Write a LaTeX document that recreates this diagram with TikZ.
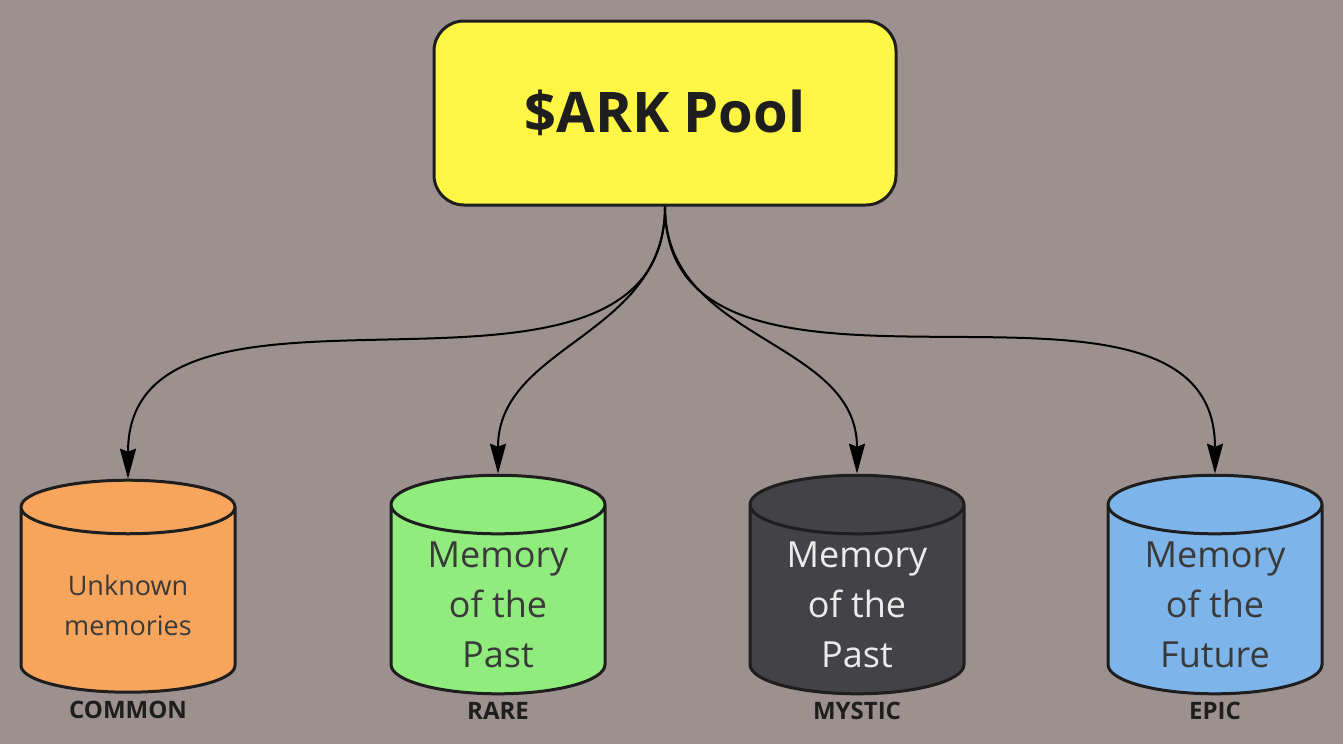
\documentclass[tikz,border=0pt]{standalone}
\usepackage{fontspec}
\setmainfont{Open Sans}
\usetikzlibrary{arrows.meta, positioning, shapes.geometric}
\definecolor{cbg}{HTML}{9D918F}
\definecolor{cline}{HTML}{1E1E1E}
\definecolor{cyellow}{HTML}{FFF645}
\definecolor{corange}{HTML}{F7A55C}
\definecolor{cgreen}{HTML}{90EC7D}
\definecolor{cdark}{HTML}{434247}
\definecolor{cblue}{HTML}{7DB5EA}
\definecolor{ctext}{HTML}{3A3A3A}

\begin{document}
\begin{tikzpicture}[
  x=0.5pt, y=-0.5pt,
  >={Stealth[length=15pt, width=8pt, inset=1.5pt]},
  pool/.style={draw=cline, line width=1.5pt, rounded corners=15pt, fill=cyellow,
               minimum width=231pt, minimum height=92pt, text=cline,
               font=\fontsize{28}{34}\selectfont\bfseries},
  cyl/.style={cylinder, shape border rotate=90, aspect=0.38, draw=cline, line width=1.5pt,
              minimum width=107pt, minimum height=106pt, align=center, text=ctext,
              font=\fontsize{18}{25}\selectfont},
  tag/.style={font=\fontsize{12}{14}\selectfont\bfseries, text=cline, text depth=0pt},
  arr/.style={->, line width=1pt, draw=black},
  ]
\fill[cbg] (0,0) rectangle (1343,744);

\node[pool] (pool) at (665,113) {\$ARK Pool};

\node[cyl, fill=corange, font=\fontsize{13.5}{20}\selectfont] (common) at (128,605) {Unknown\\memories};
\node[cyl, fill=cgreen] (rare) at (498,605) {Memory\\of the\\Past};
\node[cyl, fill=cdark, text=white!92!black] (mystic) at (857,605) {Memory\\of the\\Past};
\node[cyl, fill=cblue] (epic) at (1215,605) {Memory\\of the\\Future};

\node[tag, below=0pt of common] {COMMON};
\node[tag, below=0pt of rare] {RARE};
\node[tag, below=0pt of mystic] {MYSTIC};
\node[tag, below=0pt of epic] {EPIC};

\draw[arr] (pool.south) to[out=-90, in=90, looseness=1.05] (common.top);
\draw[arr] (pool.south) to[out=-90, in=90, looseness=1.05] (rare.top);
\draw[arr] (pool.south) to[out=-90, in=90, looseness=1.05] (mystic.top);
\draw[arr] (pool.south) to[out=-90, in=90, looseness=1.05] (epic.top);
\end{tikzpicture}
\end{document}
